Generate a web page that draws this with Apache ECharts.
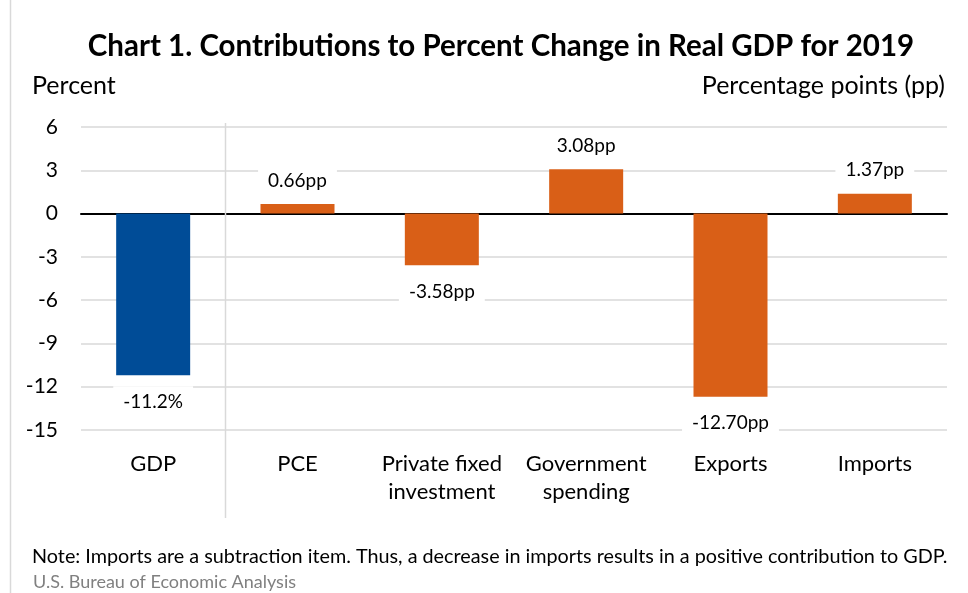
<!DOCTYPE html>
<html>
<head>
<meta charset="utf-8">
<script src="https://cdn.jsdelivr.net/npm/echarts@6/dist/echarts.min.js"></script>
<style>
  html, body { margin: 0; padding: 0; background: #fff; }
  #chart { width: 968px; height: 593px; }
</style>
</head>
<body>
<div id="chart"></div>
<script>
const categories = ["GDP", "PCE", "Private fixed\ninvestment", "Government\nspending", "Exports", "Imports"];
const values = [-11.2, 0.66, -3.58, 3.08, -12.70, 1.37];
const valueLabels = ["-11.2%", "0.66pp", "-3.58pp", "3.08pp", "-12.70pp", "1.37pp"];
const barColors = ["#004c97", "#d95f17", "#d95f17", "#d95f17", "#d95f17", "#d95f17"];
const yTicks = { min: -15, max: 6, interval: 3 };

const FONT = "Lato";
const chart = echarts.init(document.getElementById("chart"));

const barData = values.map((v, i) => ({
  value: v,
  itemStyle: { color: barColors[i] },
  label: {
    position: v < 0 ? "bottom" : "top",
    distance: v < 0 ? 11 : 8,
    formatter: valueLabels[i]
  }
}));

chart.setOption({
  backgroundColor: "#fff",
  animation: false,
  textStyle: { fontFamily: FONT },
  title: [
    {
      text: "Chart 1. Contributions to Percent Change in Real GDP for 2019",
      left: 496, top: 26, textAlign: "center",
      textStyle: { fontSize: 29.5, fontWeight: "bold", color: "#000", fontFamily: FONT }
    },
    {
      text: "Percent", left: 27, top: 68,
      textStyle: { fontSize: 25, fontWeight: "normal", color: "#000", fontFamily: FONT }
    },
    {
      text: "Percentage points (pp)", right: 18, top: 68,
      textStyle: { fontSize: 25, fontWeight: "normal", color: "#000", fontFamily: FONT }
    },
    {
      text: "Note: Imports are a subtraction item. Thus, a decrease in imports results in a positive contribution to GDP.",
      left: 27, top: 542,
      textStyle: { fontSize: 19.8, fontWeight: "normal", color: "#000", fontFamily: FONT }
    },
    {
      text: "U.S. Bureau of Economic Analysis",
      left: 28, top: 568,
      textStyle: { fontSize: 18, fontWeight: "normal", color: "#808080", fontFamily: FONT }
    }
  ],
  grid: { left: 81, right: 21, top: 127, bottom: 163 },
  xAxis: {
    type: "category",
    data: categories,
    axisLine: { onZero: true, lineStyle: { color: "#000", width: 2 } },
    axisTick: { show: false },
    axisLabel: { color: "#000", fontSize: 22, margin: 20, lineHeight: 28, interval: 0 }
  },
  yAxis: {
    type: "value",
    min: yTicks.min, max: yTicks.max, interval: yTicks.interval,
    axisLine: { show: false },
    axisTick: { show: false },
    axisLabel: { color: "#000", fontSize: 21, margin: 23 },
    splitLine: { lineStyle: { color: "#d9d9d9", width: 1.5 } }
  },
  series: [{
    type: "bar",
    data: barData,
    barWidth: 74,
    label: {
      show: true,
      color: "#000",
      fontSize: 19,
      backgroundColor: "#fff",
      padding: [6, 10]
    },
    z: 3
  }]
});

// separator between GDP and the components, plus the chart frame edge
const p0 = chart.convertToPixel({ xAxisIndex: 0 }, 0);
const p1 = chart.convertToPixel({ xAxisIndex: 0 }, 1);
const sepX = Math.round((p0 + p1) / 2) + 0.5;
chart.setOption({
  graphic: [
    {
      type: "line", z: 1,
      shape: { x1: sepX, y1: 123, x2: sepX, y2: 518 },
      style: { stroke: "#d9d9d9", lineWidth: 1.5 }
    },
    {
      type: "line", z: 1,
      shape: { x1: 10.5, y1: 0, x2: 10.5, y2: 593 },
      style: { stroke: "#d9d9d9", lineWidth: 1.5 }
    }
  ]
});
</script>
</body>
</html>
